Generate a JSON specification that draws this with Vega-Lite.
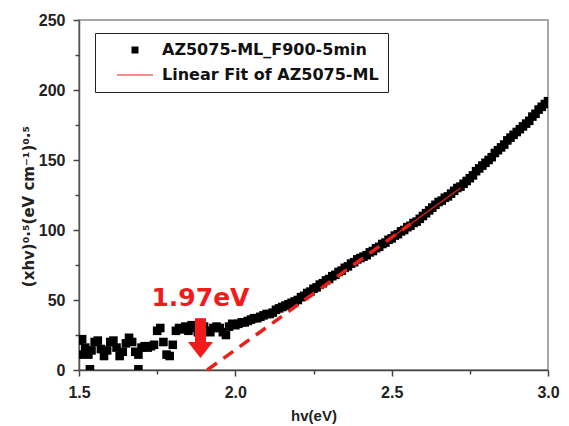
{
  "$schema": "https://vega.github.io/schema/vega-lite/v6.json",
  "width": 469,
  "height": 350,
  "autosize": "none",
  "padding": {"left": 79, "top": 20, "right": 21, "bottom": 56},
  "background": "white",
  "config": {
    "view": {"stroke": "#8a8a8a", "strokeWidth": 1.5},
    "axis": {"grid": false, "labelFlush": false, "labelOverlap": false},
    "legend": {
      "orient": "none", "legendX": 16, "legendY": 13,
      "strokeColor": "#222", "padding": 9, "symbolOffset": 23, "labelOffset": 19, "rowPadding": 9,
      "symbolSize": 100, "symbolStrokeWidth": 1.2, "labelLimit": 400,
      "labelFont": "DejaVu Sans", "labelFontSize": 16, "labelFontWeight": "bold", "labelColor": "#111"
    }
  },
  "datasets": {
    "spectrum": [
      {"hv": 1.50, "ahv": 21}, {"hv": 1.505, "ahv": 11}, {"hv": 1.51, "ahv": 22}, {"hv": 1.52, "ahv": 16}, {"hv": 1.53, "ahv": 11},
      {"hv": 1.535, "ahv": 0.5}, {"hv": 1.54, "ahv": 14}, {"hv": 1.55, "ahv": 20}, {"hv": 1.56, "ahv": 21},
      {"hv": 1.57, "ahv": 15}, {"hv": 1.58, "ahv": 10}, {"hv": 1.59, "ahv": 14}, {"hv": 1.60, "ahv": 20},
      {"hv": 1.61, "ahv": 21}, {"hv": 1.62, "ahv": 16}, {"hv": 1.63, "ahv": 10}, {"hv": 1.64, "ahv": 13},
      {"hv": 1.65, "ahv": 19}, {"hv": 1.66, "ahv": 23}, {"hv": 1.67, "ahv": 20}, {"hv": 1.68, "ahv": 13},
      {"hv": 1.69, "ahv": 11}, {"hv": 1.69, "ahv": 0.5}, {"hv": 1.70, "ahv": 16}, {"hv": 1.71, "ahv": 17},
      {"hv": 1.72, "ahv": 16}, {"hv": 1.73, "ahv": 17}, {"hv": 1.74, "ahv": 18}, {"hv": 1.75, "ahv": 28},
      {"hv": 1.76, "ahv": 30}, {"hv": 1.77, "ahv": 20}, {"hv": 1.78, "ahv": 11}, {"hv": 1.79, "ahv": 10},
      {"hv": 1.80, "ahv": 18}, {"hv": 1.81, "ahv": 28}, {"hv": 1.82, "ahv": 30}, {"hv": 1.83, "ahv": 29},
      {"hv": 1.84, "ahv": 31}, {"hv": 1.85, "ahv": 28}, {"hv": 1.86, "ahv": 32}, {"hv": 1.87, "ahv": 30},
      {"hv": 1.88, "ahv": 27}, {"hv": 1.89, "ahv": 29}, {"hv": 1.90, "ahv": 31}, {"hv": 1.91, "ahv": 28},
      {"hv": 1.92, "ahv": 27}, {"hv": 1.93, "ahv": 30}, {"hv": 1.94, "ahv": 31}, {"hv": 1.95, "ahv": 30},
      {"hv": 1.96, "ahv": 27}, {"hv": 1.97, "ahv": 25}, {"hv": 1.98, "ahv": 31}, {"hv": 1.99, "ahv": 33},
      {"hv": 2.00, "ahv": 32}, {"hv": 2.01, "ahv": 33}, {"hv": 2.02, "ahv": 34}, {"hv": 2.03, "ahv": 34},
      {"hv": 2.04, "ahv": 35}, {"hv": 2.05, "ahv": 36}, {"hv": 2.06, "ahv": 37}, {"hv": 2.07, "ahv": 37},
      {"hv": 2.08, "ahv": 38}, {"hv": 2.09, "ahv": 39}, {"hv": 2.10, "ahv": 40}, {"hv": 2.11, "ahv": 40},
      {"hv": 2.12, "ahv": 41}, {"hv": 2.13, "ahv": 43}, {"hv": 2.14, "ahv": 44}, {"hv": 2.15, "ahv": 45},
      {"hv": 2.16, "ahv": 46}, {"hv": 2.17, "ahv": 47}, {"hv": 2.18, "ahv": 48}, {"hv": 2.19, "ahv": 49},
      {"hv": 2.20, "ahv": 50}, {"hv": 2.21, "ahv": 52}, {"hv": 2.22, "ahv": 53}, {"hv": 2.23, "ahv": 55},
      {"hv": 2.24, "ahv": 56}, {"hv": 2.25, "ahv": 58}, {"hv": 2.26, "ahv": 59}, {"hv": 2.27, "ahv": 61},
      {"hv": 2.28, "ahv": 62}, {"hv": 2.29, "ahv": 64}, {"hv": 2.30, "ahv": 65}, {"hv": 2.31, "ahv": 67},
      {"hv": 2.32, "ahv": 68}, {"hv": 2.33, "ahv": 70}, {"hv": 2.34, "ahv": 71}, {"hv": 2.35, "ahv": 73},
      {"hv": 2.36, "ahv": 74}, {"hv": 2.37, "ahv": 76}, {"hv": 2.38, "ahv": 77}, {"hv": 2.39, "ahv": 79},
      {"hv": 2.40, "ahv": 80}, {"hv": 2.41, "ahv": 81}, {"hv": 2.42, "ahv": 82}, {"hv": 2.43, "ahv": 84},
      {"hv": 2.44, "ahv": 85}, {"hv": 2.45, "ahv": 87}, {"hv": 2.46, "ahv": 88}, {"hv": 2.47, "ahv": 90},
      {"hv": 2.48, "ahv": 91}, {"hv": 2.49, "ahv": 93}, {"hv": 2.50, "ahv": 94}, {"hv": 2.51, "ahv": 96},
      {"hv": 2.52, "ahv": 97}, {"hv": 2.53, "ahv": 99}, {"hv": 2.54, "ahv": 100}, {"hv": 2.55, "ahv": 102},
      {"hv": 2.56, "ahv": 103}, {"hv": 2.57, "ahv": 105}, {"hv": 2.58, "ahv": 106}, {"hv": 2.59, "ahv": 108},
      {"hv": 2.60, "ahv": 110}, {"hv": 2.61, "ahv": 112}, {"hv": 2.62, "ahv": 114}, {"hv": 2.63, "ahv": 116},
      {"hv": 2.64, "ahv": 118}, {"hv": 2.65, "ahv": 120}, {"hv": 2.66, "ahv": 121}, {"hv": 2.67, "ahv": 123},
      {"hv": 2.68, "ahv": 124}, {"hv": 2.69, "ahv": 126}, {"hv": 2.70, "ahv": 128}, {"hv": 2.71, "ahv": 130},
      {"hv": 2.72, "ahv": 131}, {"hv": 2.73, "ahv": 133}, {"hv": 2.74, "ahv": 135}, {"hv": 2.75, "ahv": 137},
      {"hv": 2.76, "ahv": 139}, {"hv": 2.77, "ahv": 142}, {"hv": 2.78, "ahv": 144}, {"hv": 2.79, "ahv": 146},
      {"hv": 2.80, "ahv": 148}, {"hv": 2.81, "ahv": 150}, {"hv": 2.82, "ahv": 152}, {"hv": 2.83, "ahv": 155},
      {"hv": 2.84, "ahv": 157}, {"hv": 2.85, "ahv": 159}, {"hv": 2.86, "ahv": 161}, {"hv": 2.87, "ahv": 164},
      {"hv": 2.88, "ahv": 166}, {"hv": 2.89, "ahv": 168}, {"hv": 2.90, "ahv": 170}, {"hv": 2.91, "ahv": 172},
      {"hv": 2.92, "ahv": 174}, {"hv": 2.93, "ahv": 176}, {"hv": 2.94, "ahv": 178}, {"hv": 2.95, "ahv": 181},
      {"hv": 2.96, "ahv": 183}, {"hv": 2.97, "ahv": 186}, {"hv": 2.98, "ahv": 188}, {"hv": 2.99, "ahv": 190},
      {"hv": 3.00, "ahv": 192}
    ],
    "fitExtrapolated": [{"hv": 1.91, "fit": 0}, {"hv": 2.56, "fit": 104.3}],
    "fitRange": [{"hv": 2.50, "fit": 94.7}, {"hv": 2.72, "fit": 130}],
    "gap": [{"hv": 1.8885, "top": 37, "base": 19, "tip": 14.3, "textY": 45.7, "label": "1.97eV"}]
  },
  "resolve": {"axis": {"x": "independent", "y": "independent"}},
  "layer": [
    {
      "data": {"name": "spectrum"},
      "mark": {"type": "point", "size": 150, "strokeWidth": 1.2, "opacity": 1, "clip": true},
      "encoding": {
        "x": {
          "field": "hv", "type": "quantitative",
          "scale": {"domain": [1.5, 3.0], "nice": false, "zero": false},
          "axis": {
            "values": [1.5, 2.0, 2.5, 3.0], "format": ".1f", "title": "hv(eV)",
            "tickSize": 6, "tickWidth": 1.5, "tickColor": "#444", "domainColor": "#444", "domainWidth": 1.5,
            "labelFont": "Liberation Sans", "labelFontSize": 16, "labelFontWeight": "bold", "labelColor": "#222", "labelPadding": 8,
            "titleFont": "Liberation Sans", "titleFontSize": 15, "titleFontWeight": "bold", "titleColor": "#222",
            "titleY": 38, "titleBaseline": "top"
          }
        },
        "y": {
          "field": "ahv", "type": "quantitative",
          "scale": {"domain": [0, 250], "nice": false},
          "axis": {
            "values": [0, 50, 100, 150, 200, 250], "title": "(xhv)⁰·⁵(eV cm⁻¹)⁰·⁵",
            "tickSize": 6, "tickWidth": 1.5, "tickColor": "#444", "domainColor": "#555", "domainWidth": 1.5,
            "labelFont": "Liberation Sans", "labelFontSize": 16, "labelFontWeight": "bold", "labelColor": "#222", "labelPadding": 8,
            "titleFont": "DejaVu Sans", "titleFontSize": 15, "titleFontWeight": "bold", "titleColor": "#222",
            "titleAngle": -90, "titleX": -46, "titleY": 186, "titleAlign": "center", "titleBaseline": "alphabetic"
          }
        },
        "fill": {
          "datum": "AZ5075-ML_F900-5min", "type": "nominal",
          "scale": {"domain": ["AZ5075-ML_F900-5min", "Linear Fit of AZ5075-ML"], "range": ["#000000", "transparent"]},
          "legend": {"title": null}
        },
        "stroke": {
          "datum": "AZ5075-ML_F900-5min", "type": "nominal",
          "scale": {"domain": ["AZ5075-ML_F900-5min", "Linear Fit of AZ5075-ML"], "range": ["transparent", "#e8201c"]},
          "legend": {"title": null}
        },
        "shape": {
          "datum": "AZ5075-ML_F900-5min", "type": "nominal",
          "scale": {"domain": ["AZ5075-ML_F900-5min", "Linear Fit of AZ5075-ML"], "range": ["M-0.7,-0.7H0.7V0.7H-0.7Z", "M-3.6,0H3.6"]},
          "legend": {"title": null}
        }
      }
    },
    {
      "data": {"name": "fitExtrapolated"},
      "mark": {"type": "line", "color": "#e8201c", "strokeWidth": 3.5, "strokeDash": [12, 8], "strokeCap": "butt"},
      "encoding": {
        "x": {
          "field": "hv", "type": "quantitative",
          "axis": {"values": [1.75, 2.25, 2.75], "labels": false, "domain": false, "title": null, "orient": "bottom",
                   "tickSize": 4, "tickWidth": 1.5, "tickColor": "#444"}
        },
        "y": {
          "field": "fit", "type": "quantitative",
          "axis": {"values": [25, 75, 125, 175, 225], "labels": false, "domain": false, "title": null, "orient": "left",
                   "tickSize": 4, "tickWidth": 1.5, "tickColor": "#444"}
        }
      }
    },
    {
      "data": {"name": "fitRange"},
      "mark": {"type": "line", "color": "#e8201c", "strokeWidth": 1.3},
      "encoding": {
        "x": {"field": "hv", "type": "quantitative", "axis": null},
        "y": {"field": "fit", "type": "quantitative", "axis": null}
      }
    },
    {
      "data": {"name": "gap"},
      "mark": {"type": "rule", "color": "#f21a1a", "strokeWidth": 11, "strokeCap": "butt"},
      "encoding": {
        "x": {"field": "hv", "type": "quantitative", "axis": null},
        "y": {"field": "top", "type": "quantitative", "axis": null},
        "y2": {"field": "base"}
      }
    },
    {
      "data": {"name": "gap"},
      "mark": {"type": "point", "shape": "M-1,-0.64L1,-0.64L0,0.64Z", "size": 625, "filled": true, "color": "#f21a1a", "opacity": 1},
      "encoding": {
        "x": {"field": "hv", "type": "quantitative", "axis": null},
        "y": {"field": "tip", "type": "quantitative", "axis": null}
      }
    },
    {
      "data": {"name": "gap"},
      "mark": {"type": "text", "font": "DejaVu Sans", "fontSize": 25, "fontWeight": "bold", "color": "#f21a1a", "align": "center", "baseline": "alphabetic"},
      "encoding": {
        "x": {"field": "hv", "type": "quantitative", "axis": null},
        "y": {"field": "textY", "type": "quantitative", "axis": null},
        "text": {"field": "label"}
      }
    }
  ]
}
